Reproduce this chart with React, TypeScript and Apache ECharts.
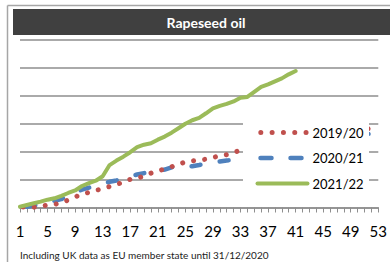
import React, { useEffect, useRef } from "react";
import * as echarts from "echarts";

const weeks: string[] = Array.from({ length: 53 }, (_, i) => String(i + 1));

const s2019: (number | null)[] = [
  0.02, 0.02, 0.01, 0.05, 0.08, 0.11, 0.17, 0.27, 0.38, 0.47,
  0.54, 0.61, 0.68, 0.75, 0.83, 0.9, 1.01, 1.05, 1.12, 1.23,
  1.31, 1.38, 1.46, 1.55, 1.63, 1.67, 1.7, 1.73, 1.79, 1.85,
  1.89, 1.97, 2.05, 2.08, 2.14, 2.17, 2.23, 2.28, 2.31, 2.36,
  2.38, 2.44, 2.49, 2.51, 2.56, 2.61, 2.63, 2.68, 2.72, 2.76,
  2.8, 2.84, null,
];

const s2020: (number | null)[] = [
  0.0, 0.03, 0.07, 0.12, 0.18, 0.24, 0.3, 0.42, 0.55, 0.64,
  0.71, 0.78, 0.86, 0.92, 0.97, 1.04, 1.12, 1.18, 1.23, 1.27,
  1.3, 1.36, 1.44, 1.46, 1.46, 1.48, 1.52, 1.57, 1.61, 1.65,
  1.68, 1.71, 1.75, 1.8, 1.86, 1.9, 1.95, 1.99, 2.04, 2.08,
  2.13, 2.17, 2.22, 2.27, 2.31, 2.36, 2.4, 2.45, 2.5, 2.54,
  2.6, 2.66, null,
];

const s2021: (number | null)[] = [
  0.03, 0.09, 0.15, 0.21, 0.28, 0.33, 0.42, 0.52, 0.61, 0.77,
  0.875, 0.96, 1.12, 1.52, 1.68, 1.82, 1.98, 2.16, 2.25, 2.3,
  2.43, 2.54, 2.68, 2.84, 3.0, 3.125, 3.21, 3.375, 3.55, 3.64,
  3.71, 3.8, 3.93, 3.96, 4.14, 4.32, 4.41, 4.52, 4.625, 4.77,
  4.89, null, null, null, null, null, null, null, null, null,
  null, null, null,
];

const seriesNames = ["2019/20", "2020/21", "2021/22"];
const titleText = "Rapeseed oil";
const footnote = "Including UK data as EU member state until 31/12/2020";

const FONT = "Lato, Carlito, Calibri, sans-serif";
const GRID_COLOR = "#8e8e8e";

export default function App() {
  const ref = useRef<HTMLDivElement>(null);

  useEffect(() => {
    if (!ref.current) return;
    const chart = echarts.init(ref.current, undefined, { renderer: "svg" });
    chart.setOption({
      animation: false,
      backgroundColor: "#ffffff",
      grid: { left: 20, right: 10, top: 40, bottom: 54.5, containLabel: false },
      xAxis: {
        type: "category",
        data: weeks,
        boundaryGap: false,
        axisLine: { show: true, lineStyle: { color: GRID_COLOR, width: 1.5 } },
        axisTick: { show: true, interval: 0, length: 5, lineStyle: { color: GRID_COLOR, width: 1 } },
        axisLabel: {
          interval: 3,
          margin: 16,
          color: "#000",
          fontFamily: FONT,
          fontSize: 15,
        },
        splitLine: { show: false },
      },
      yAxis: {
        type: "value",
        min: 0,
        max: 6,
        interval: 1,
        axisLine: { show: false },
        axisTick: { show: false },
        axisLabel: { show: false },
        splitLine: { show: true, lineStyle: { color: GRID_COLOR, width: 1.5 } },
      },
      legend: {
        orient: "vertical",
        left: 243,
        top: 118,
        padding: [8, 8, 8, 12],
        itemWidth: 50,
        itemHeight: 14,
        itemGap: 12.5,
        z: 20,
        itemStyle: { opacity: 0 },
        textStyle: { fontFamily: FONT, fontSize: 13, color: "#000" },
        data: [
          {
            name: seriesNames[0],
            lineStyle: { width: 5, type: [0.01, 11.3], dashOffset: 8.3, cap: "round" },
          },
          {
            name: seriesNames[1],
            lineStyle: { width: 4.5, type: [11, 19], dashOffset: 27, cap: "round" },
          },
          {
            name: seriesNames[2],
            lineStyle: { width: 4, cap: "round" },
          },
        ],
      },
      series: [
        {
          name: seriesNames[0],
          type: "line",
          data: s2019,
          showSymbol: false,
          symbol: "none",
          color: "#C0504D",
          lineStyle: { color: "#C0504D", width: 5, type: [0.01, 11.1], dashOffset: 7.8, cap: "round" },
          z: 3,
        },
        {
          name: seriesNames[1],
          type: "line",
          data: s2020,
          showSymbol: false,
          symbol: "none",
          color: "#4F81BD",
          lineStyle: { color: "#4F81BD", width: 4.5, type: [9, 19.5], dashOffset: 22, cap: "round" },
          z: 2,
        },
        {
          name: seriesNames[2],
          type: "line",
          data: s2021,
          showSymbol: false,
          symbol: "none",
          color: "#9BBB59",
          lineStyle: { color: "#9BBB59", width: 4, cap: "round", join: "round" },
          z: 3,
        },
      ],
      graphic: [
        {
          type: "rect",
          shape: { x: 243, y: 118, width: 126, height: 83 },
          style: { fill: "#ffffff" },
          z: 10,
          silent: true,
        },
        {
          type: "line",
          shape: { x1: 7.5, y1: 5.5, x2: 390, y2: 5.5 },
          style: { stroke: "#a6a6a6", lineWidth: 1.5 },
          silent: true,
        },
        {
          type: "line",
          shape: { x1: 7.5, y1: 5.5, x2: 7.5, y2: 262 },
          style: { stroke: "#a6a6a6", lineWidth: 1.5 },
          silent: true,
        },
        {
          type: "rect",
          shape: { x: 13, y: 9, width: 377, height: 26 },
          style: { fill: "#404040" },
          silent: true,
        },
        {
          type: "text",
          x: 206,
          y: 22,
          style: {
            text: titleText,
            fill: "#ffffff",
            font: `bold 14px ${FONT}`,
            textAlign: "center",
            textVerticalAlign: "middle",
          },
          silent: true,
        },
        {
          type: "text",
          x: 20,
          y: 254.5,
          style: {
            text: footnote,
            fill: "#222222",
            font: `10px ${FONT}`,
            textAlign: "left",
            textVerticalAlign: "middle",
          },
          silent: true,
        },
      ],
    });
    return () => chart.dispose();
  }, []);

  return (
    <div
      ref={ref}
      style={{ position: "fixed", left: 0, top: 0, width: 390, height: 262 }}
    />
  );
}
